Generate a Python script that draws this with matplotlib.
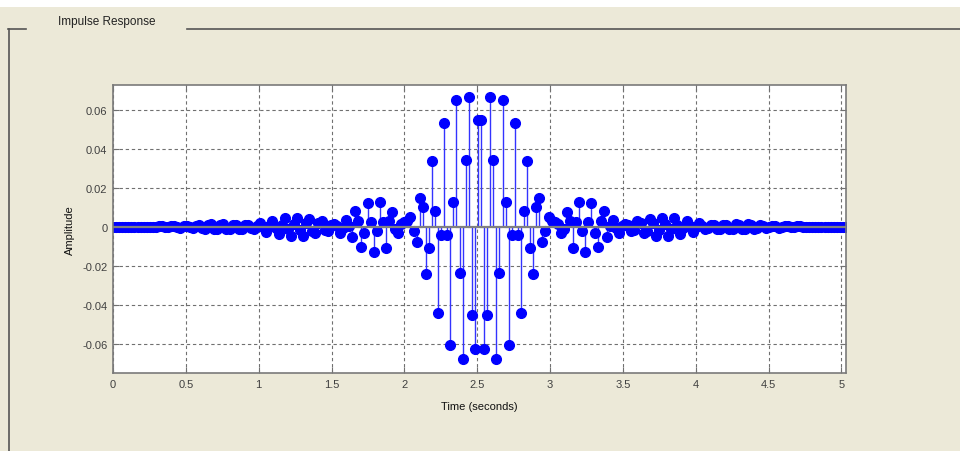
"""Impulse response of a symmetric FIR filter, drawn MATLAB-GUI style."""
import matplotlib

matplotlib.use("Agg")
import matplotlib.pyplot as plt  # noqa: E402
import numpy as np  # noqa: E402
from matplotlib.lines import Line2D  # noqa: E402
from matplotlib.patches import Rectangle  # noqa: E402

# sample period (s); 240 taps
TS = 0.02105

# first half of the taps, from t = 0 up to the centre
H_LEFT = [
    0.0, 0.0, 0.0, 0.0, 0.0, 0.0, 0.0, 0.0001, 0.0001, -0.0001,
    -0.0001, 0.0001, 0.0001, -0.0002, -0.0002, 0.0002, 0.0002, -0.0003, -0.0002, 0.0003,
    0.0004, -0.0001, -0.0005, 0.0002, 0.0006, -0.0003, -0.0008, 0.0005, 0.0010, -0.0006,
    -0.0011, 0.0008, 0.0012, -0.0009, -0.0013, 0.0010, 0.0013, -0.0011, -0.0012, 0.0011,
    0.0011, -0.0010, -0.0009, 0.0008, 0.0010, -0.0006, -0.0013, 0.0005, 0.0019, -0.0003,
    -0.0025, 0.0003, 0.0032, -0.0005, -0.0038, 0.0008, 0.0043, -0.0012, -0.0046, 0.0015,
    0.0047, -0.0018, -0.0045, 0.0020, 0.0040, -0.0020, -0.0034, 0.0018, 0.0028, -0.0015,
    -0.0020, 0.0010, 0.0014, 0.0005, -0.0030, -0.0005, 0.0036, 0.0005, -0.0055, 0.0082,
    0.0030, -0.0103, -0.0030, 0.0120, 0.0022, -0.0131, -0.0020, 0.0125, 0.0022, -0.0110,
    0.0030, 0.0077, -0.0010, -0.0030, 0.0014, 0.0022, 0.0030, 0.0048, -0.0020, -0.0080,
    0.0150, 0.0100, -0.0243, -0.0110, 0.0335, 0.0082, -0.0440, -0.0040, 0.0530, -0.0040,
    -0.0605, 0.0125, 0.0650, -0.0235, -0.0680, 0.0340, 0.0665, -0.0450, -0.0625, 0.0550,
]

# second half, from the centre out to the last tap
H_RIGHT = [
    0.0550, -0.0625, -0.0450, 0.0665, 0.0340, -0.0680, -0.0235, 0.0650, 0.0125, -0.0605,
    -0.0040, 0.0530, -0.0040, -0.0440, 0.0082, 0.0335, -0.0110, -0.0243, 0.0100, 0.0150,
    -0.0080, -0.0020, 0.0048, 0.0030, 0.0022, 0.0014, -0.0030, -0.0010, 0.0077, 0.0030,
    -0.0110, 0.0022, 0.0125, -0.0020, -0.0131, 0.0022, 0.0120, -0.0030, -0.0103, 0.0030,
    0.0082, -0.0055, 0.0005, 0.0036, -0.0005, -0.0030, 0.0005, 0.0014, 0.0010, -0.0020,
    -0.0015, 0.0028, 0.0018, -0.0034, -0.0020, 0.0040, 0.0020, -0.0045, -0.0018, 0.0047,
    0.0015, -0.0046, -0.0012, 0.0043, 0.0008, -0.0038, -0.0005, 0.0032, 0.0003, -0.0025,
    -0.0003, 0.0019, 0.0005, -0.0013, -0.0006, 0.0010, 0.0008, -0.0009, -0.0010, 0.0011,
    0.0011, -0.0012, -0.0011, 0.0013, 0.0010, -0.0013, -0.0009, 0.0012, 0.0008, -0.0011,
    -0.0006, 0.0010, 0.0005, -0.0008, -0.0003, 0.0006, 0.0002, -0.0005, -0.0001, 0.0004,
    0.0003, -0.0002, -0.0003, 0.0002, 0.0002, -0.0002, -0.0002, 0.0001, 0.0001, -0.0001,
    -0.0001, 0.0001, 0.0001, 0.0, 0.0, 0.0, 0.0, 0.0, 0.0, 0.0,
]

X_TICKS = [0, 0.5, 1, 1.5, 2, 2.5, 3, 3.5, 4, 4.5, 5]
Y_TICKS = [-0.06, -0.04, -0.02, 0, 0.02, 0.04, 0.06]
Y_TICK_LABELS = ["-0.06", "-0.04", "-0.02", "0", "0.02", "0.04", "0.06"]

PANEL = "#ece9d8"
FONT = ["Liberation Sans", "DejaVu Sans"]


def main() -> None:
    h = np.array(H_LEFT + H_RIGHT)
    t = np.arange(len(h)) * TS

    plt.rcParams["font.family"] = FONT
    fig = plt.figure(figsize=(9.6, 4.52), dpi=100, facecolor=PANEL)

    # white strip at the very top of the window
    fig.patches.append(Rectangle((0, 1 - 8 / 452), 1, 8 / 452, transform=fig.transFigure,
                                 facecolor="white", edgecolor="none", zorder=0))
    # group box frame with its caption
    frame = dict(color="#555555", lw=1.2, transform=fig.transFigure)
    y_line = 1 - 30 / 452
    fig.add_artist(Line2D([8 / 960, 26 / 960], [y_line, y_line], **frame))
    fig.add_artist(Line2D([187 / 960, 1.0], [y_line, y_line], **frame))
    fig.add_artist(Line2D([8.5 / 960, 8.5 / 960], [0, y_line], **frame))
    fig.text(58 / 960, 1 - 22 / 452, "Impulse Response", fontsize=8.5, color="#222222",
             va="center", ha="left")

    ax = fig.add_axes([113 / 960, 1 - 374 / 452, 733 / 960, 288 / 452])
    ax.set_facecolor("white")

    markers, stems, base = ax.stem(t, h, linefmt="-", markerfmt="o", basefmt="-")
    stems.set_color("#3333ff")
    stems.set_linewidth(1.0)
    markers.set_color("#0000ff")
    markers.set_markersize(7)
    base.set_color("#808080")
    base.set_linewidth(1.6)
    base.set_zorder(4)

    ax.set_xlim(0, t[-1])
    ax.set_ylim(-0.075, 0.0727)
    ax.set_xticks(X_TICKS)
    ax.set_xticklabels([f"{v:g}" for v in X_TICKS])
    ax.set_yticks(Y_TICKS)
    ax.set_yticklabels(Y_TICK_LABELS)
    ax.grid(True, color="#707070", linestyle=(0, (3, 2.5)), linewidth=0.8)
    ax.set_axisbelow(True)
    ax.tick_params(direction="in", length=4, color="#707070", labelcolor="#404040",
                   labelsize=8, top=True, right=True, pad=4)
    for sp in ax.spines.values():
        sp.set_color("#7a7a7a")
        sp.set_linewidth(1.2)

    ax.set_xlabel("Time (seconds)", fontsize=8, color="#111111", labelpad=9)
    ax.set_ylabel("Amplitude", fontsize=8, color="#111111", labelpad=5)

    fig.savefig("out.png", dpi=100, facecolor=PANEL)
    plt.close(fig)


if __name__ == "__main__":
    main()
